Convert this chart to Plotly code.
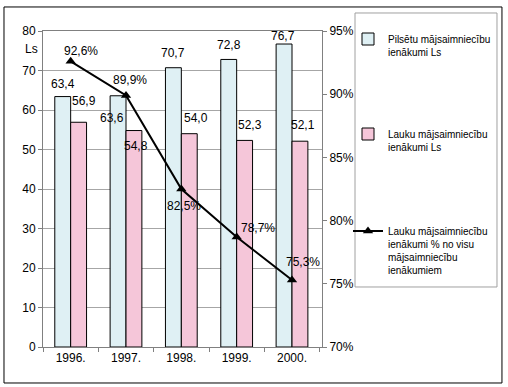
import plotly.graph_objects as go

years = ["1996.", "1997.", "1998.", "1999.", "2000."]
urban_ls = [63.4, 63.6, 70.7, 72.8, 76.7]
rural_ls = [56.9, 54.8, 54.0, 52.3, 52.1]
rural_pct = [92.6, 89.9, 82.5, 78.7, 75.3]

name_urban = "Pilsētu mājsaimniecību<br>ienākumi Ls"
name_rural = "Lauku mājsaimniecību<br>ienākumi Ls"
name_pct = "Lauku mājsaimniecību<br>ienākumi % no visu<br>mājsaimniecību<br>ienākumiem"

FONT = "Liberation Sans Narrow, Arial Narrow, Liberation Sans, Arial, sans-serif"

def fmt(v):
    return f"{v:.1f}".replace(".", ",")

fig = go.Figure()
fig.add_trace(go.Bar(x=years, y=urban_ls, name=name_urban, legend="legend", showlegend=True,
                     marker=dict(color="#DFF0F4", line=dict(color="#000000", width=1))))
fig.add_trace(go.Bar(x=years, y=rural_ls, name=name_rural, legend="legend2", showlegend=True,
                     marker=dict(color="#F5C6D9", line=dict(color="#000000", width=1))))
fig.add_trace(go.Scatter(x=years, y=rural_pct, name=name_pct, legend="legend3", yaxis="y2",
                         mode="lines+markers", showlegend=True,
                         line=dict(color="#000000", width=2),
                         marker=dict(symbol="triangle-up", size=9, color="#000000")))

# label offsets (pixels) for bar and line value labels
urban_off = [(0, -13), (-6, 22), (0, -15), (0, -14), (-1, -8)]
rural_off = [(5, -21), (2, 15), (7, -16), (5, -15), (3, -16)]
pct_off = [(10, -10), (4, -15), (3, 17), (21, -9), (11, -18)]

ann = []
for i, v in enumerate(urban_ls):
    ann.append(dict(x=i - 0.143, y=v, xref="x", yref="y", text=fmt(v), showarrow=False,
                    xshift=urban_off[i][0], yshift=-urban_off[i][1]))
for i, v in enumerate(rural_ls):
    ann.append(dict(x=i + 0.143, y=v, xref="x", yref="y", text=fmt(v), showarrow=False,
                    xshift=rural_off[i][0], yshift=-rural_off[i][1]))
for i, v in enumerate(rural_pct):
    ann.append(dict(x=i, y=v, xref="x", yref="y2", text=fmt(v) + "%", showarrow=False,
                    xshift=pct_off[i][0], yshift=-pct_off[i][1]))
ann.append(dict(x=-0.07, y=0.973, xref="paper", yref="paper", text="Ls", showarrow=False,
                font=dict(size=12)))

W, H = 508, 387
PW = 279  # plot width in px (43..322)
PH = 316  # plot height in px (31..347)

def leg(top_px, left_px=348):
    return dict(x=(left_px - 43) / PW, y=(347 - top_px) / PH, xref="paper", yref="paper",
                xanchor="left", yanchor="top", borderwidth=0, bgcolor="rgba(0,0,0,0)",
                font=dict(size=10), valign="top", itemwidth=30)

fig.update_layout(
    width=W, height=H, showlegend=True,
    margin=dict(l=43, r=186, t=31, b=40),
    paper_bgcolor="white", plot_bgcolor="white",
    font=dict(family=FONT, size=12, color="#000000"),
    barmode="group", bargap=0.426, bargroupgap=0,
    annotations=ann,
    xaxis=dict(showline=True, linecolor="#808080", mirror=True, ticks="outside",
               tickson="boundaries", ticklen=4, tickcolor="#808080", showgrid=False,
               tickfont=dict(size=12)),
    yaxis=dict(range=[0, 80], dtick=10, showline=True, linecolor="#808080", mirror=True,
               ticks="outside", ticklen=4, tickcolor="#808080",
               gridcolor="#A6A6A6", gridwidth=1, zeroline=False, tickfont=dict(size=12)),
    yaxis2=dict(range=[70, 95], dtick=5, ticksuffix="%", overlaying="y", side="right",
                showgrid=False, zeroline=False, ticks="outside", ticklen=4, tickcolor="#808080",
                showline=False, tickfont=dict(size=12)),
    legend=leg(26),
    legend2=leg(121),
    legend3=leg(218),
    shapes=[
        dict(type="rect", xref="paper", yref="paper",
             x0=-0.1398, x1=1.645, y0=-0.1139, y1=1.076,
             line=dict(color="#000000", width=1)),
        dict(type="rect", xref="paper", yref="paper",
             x0=1.1183, x1=1.6272, y0=0.1899, y1=1.057,
             line=dict(color="#A0A0A0", width=1)),
    ],
)

fig.write_html("out.html", config={"displayModeBar": False},
               post_script="document.body.style.margin='0';")
